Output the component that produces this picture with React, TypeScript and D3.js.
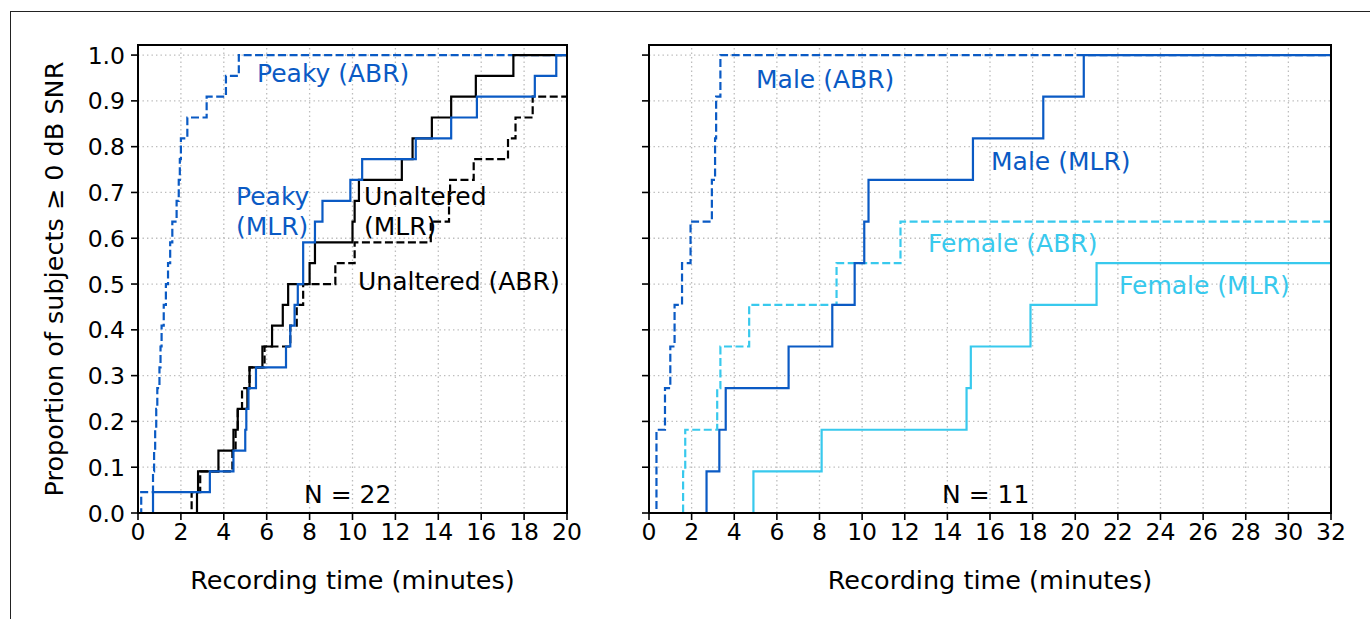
import React from "react";
import * as d3 from "d3";

// Times (minutes) at which each subject first reached >= 0 dB SNR.
// Panel A: 22 subjects, peaky vs unaltered speech.
const peakyAbrTimes = [0.15, 0.7, 0.75, 0.8, 0.85, 0.9, 1.0, 1.05, 1.1, 1.2, 1.3, 1.4, 1.5, 1.6, 1.8, 1.9, 1.95, 2.0, 2.3, 3.2, 4.1, 4.7];
const peakyMlrTimes = [0.7, 3.35, 4.45, 5.0, 5.05, 5.15, 5.5, 6.9, 7.1, 7.3, 7.45, 7.7, 7.7, 8.25, 8.6, 9.9, 10.45, 12.95, 14.6, 15.8, 18.5, 19.5];
const unalteredAbrTimes = [2.5, 2.9, 4.4, 4.55, 4.65, 4.85, 5.2, 5.9, 7.1, 7.4, 7.7, 9.2, 10.1, 13.65, 14.5, 14.55, 15.65, 17.25, 17.6, 18.4];
const unalteredMlrTimes = [2.75, 2.8, 3.75, 4.45, 4.65, 5.1, 5.2, 5.8, 6.25, 6.75, 7.0, 8.0, 8.25, 10.0, 10.1, 10.3, 12.3, 12.8, 13.7, 14.6, 15.75, 17.5];
const leftN = 22;

// Panel B: 11 subjects, male vs female narrator.
const maleAbrTimes = [0.35, 0.35, 0.75, 1.0, 1.2, 1.55, 1.95, 2.95, 3.1, 3.15, 3.35];
const maleMlrTimes = [2.7, 3.3, 3.6, 6.55, 8.6, 9.65, 10.1, 10.3, 15.2, 18.5, 20.4];
const femaleAbrTimes = [1.6, 1.7, 3.2, 3.35, 4.7, 8.8, 11.8];
const femaleMlrTimes = [4.9, 8.1, 14.9, 15.1, 17.9, 21.0];
const rightN = 11;

const leftXTicks = [0, 2, 4, 6, 8, 10, 12, 14, 16, 18, 20];
const rightXTicks = [0, 2, 4, 6, 8, 10, 12, 14, 16, 18, 20, 22, 24, 26, 28, 30, 32];
const yTicks = [0, 0.1, 0.2, 0.3, 0.4, 0.5, 0.6, 0.7, 0.8, 0.9, 1.0];

const BLUE = "#0a5ac4";
const CYAN = "#38c9ed";
const BLACK = "#000000";
const FONT = "DejaVu Sans, sans-serif";

const W = 1370;
const H = 619;
const TOP = 45;
const BOTTOM = 513;
const Y_MAX = 1.022;

type Series = {
  times: number[];
  n: number;
  color: string;
  dashed: boolean;
};

type Label = { lines: string[]; x: number; y: number; color: string };

function stepPath(
  s: Series,
  x: d3.ScaleLinear<number, number>,
  y: d3.ScaleLinear<number, number>,
  xMax: number
) {
  const pts: [number, number][] = [[0, 0]];
  s.times.forEach((t, i) => pts.push([t, (i + 1) / s.n]));
  pts.push([xMax, s.times.length / s.n]);
  const line = d3
    .line<[number, number]>()
    .x((d) => x(d[0]))
    .y((d) => y(d[1]))
    .curve(d3.curveStepAfter);
  return line(pts) || "";
}

function Panel({
  id,
  left,
  right,
  xMax,
  xTicks,
  showYLabels,
  series,
  labels,
}: {
  id: string;
  left: number;
  right: number;
  xMax: number;
  xTicks: number[];
  showYLabels: boolean;
  series: Series[];
  labels: Label[];
}) {
  const x = d3.scaleLinear().domain([0, xMax]).range([left, right]);
  const y = d3.scaleLinear().domain([0, Y_MAX]).range([BOTTOM, TOP]);
  const tickLen = 7;
  return (
    <g>
      <defs>
        <clipPath id={id}>
          <rect x={left} y={TOP} width={right - left} height={BOTTOM - TOP} />
        </clipPath>
      </defs>
      {/* grid */}
      <g stroke="#bdbdbd" strokeWidth={1.3} strokeDasharray="1.4,3.1">
        {xTicks.map((t) => (
          <line key={"gx" + t} x1={x(t)} x2={x(t)} y1={BOTTOM} y2={TOP} />
        ))}
        {yTicks.map((t) => (
          <line key={"gy" + t} x1={left} x2={right} y1={y(t)} y2={y(t)} />
        ))}
      </g>
      {/* step curves */}
      <g clipPath={`url(#${id})`} fill="none">
        {series.map((s, i) => (
          <path
            key={i}
            d={stepPath(s, x, y, xMax)}
            stroke={s.color}
            strokeWidth={2.2}
            strokeDasharray={s.dashed ? "8,3.5" : undefined}
          />
        ))}
      </g>
      {/* annotations */}
      {labels.map((l, i) => (
        <text key={i} fill={l.color} fontFamily={FONT} fontSize={25}>
          {l.lines.map((ln, j) => (
            <tspan key={j} x={l.x} y={l.y + j * 30}>
              {ln}
            </tspan>
          ))}
        </text>
      ))}
      {/* frame */}
      <rect
        x={left}
        y={TOP}
        width={right - left}
        height={BOTTOM - TOP}
        fill="none"
        stroke="#000"
        strokeWidth={2}
      />
      {/* x ticks */}
      <g fontFamily={FONT} fontSize={23.5} textAnchor="middle">
        {xTicks.map((t) => (
          <g key={"xt" + t}>
            <line x1={x(t)} x2={x(t)} y1={BOTTOM} y2={BOTTOM + tickLen} stroke="#000" strokeWidth={1.6} />
            <text x={x(t)} y={BOTTOM + 27}>
              {t}
            </text>
          </g>
        ))}
      </g>
      {/* y ticks */}
      <g fontFamily={FONT} fontSize={23.5} textAnchor="end">
        {yTicks.map((t) => (
          <g key={"yt" + t}>
            <line x1={left - tickLen} x2={left} y1={y(t)} y2={y(t)} stroke="#000" strokeWidth={1.6} />
            {showYLabels && (
              <text x={left - 13} y={y(t) + 8.5}>
                {d3.format(".1f")(t)}
              </text>
            )}
          </g>
        ))}
      </g>
      <text
        x={(left + right) / 2}
        y={589}
        textAnchor="middle"
        fontFamily={FONT}
        fontSize={25.5}
      >
        Recording time (minutes)
      </text>
    </g>
  );
}

export default function App() {
  const leftSeries: Series[] = [
    { times: peakyAbrTimes, n: leftN, color: BLUE, dashed: true },
    { times: unalteredAbrTimes, n: leftN, color: BLACK, dashed: true },
    { times: unalteredMlrTimes, n: leftN, color: BLACK, dashed: false },
    { times: peakyMlrTimes, n: leftN, color: BLUE, dashed: false },
  ];
  const rightSeries: Series[] = [
    { times: maleAbrTimes, n: rightN, color: BLUE, dashed: true },
    { times: femaleAbrTimes, n: rightN, color: CYAN, dashed: true },
    { times: maleMlrTimes, n: rightN, color: BLUE, dashed: false },
    { times: femaleMlrTimes, n: rightN, color: CYAN, dashed: false },
  ];
  const leftLabels: Label[] = [
    { lines: ["Peaky (ABR)"], x: 257, y: 82, color: BLUE },
    { lines: ["Peaky", "(MLR)"], x: 236, y: 205, color: BLUE },
    { lines: ["Unaltered", "(MLR)"], x: 364, y: 205, color: BLACK },
    { lines: ["Unaltered (ABR)"], x: 358, y: 290, color: BLACK },
    { lines: ["N = 22"], x: 304, y: 503, color: BLACK },
  ];
  const rightLabels: Label[] = [
    { lines: ["Male (ABR)"], x: 756, y: 88, color: BLUE },
    { lines: ["Male (MLR)"], x: 991, y: 170, color: BLUE },
    { lines: ["Female (ABR)"], x: 928, y: 252, color: CYAN },
    { lines: ["Female (MLR)"], x: 1119, y: 294, color: CYAN },
    { lines: ["N = 11"], x: 942, y: 503, color: BLACK },
  ];
  return (
    <svg
      width={W}
      height={H}
      viewBox={`0 0 ${W} ${H}`}
      style={{ position: "absolute", left: 0, top: 0, background: "#fff" }}
    >
      <rect x={0} y={0} width={W} height={H} fill="#fff" />
      {/* outer figure border */}
      <rect x={10.5} y={11.5} width={W + 10} height={H + 10} fill="none" stroke="#222" strokeWidth={1} />
      <Panel
        id="clipLeft"
        left={138}
        right={567}
        xMax={20}
        xTicks={leftXTicks}
        showYLabels={true}
        series={leftSeries}
        labels={leftLabels}
      />
      <Panel
        id="clipRight"
        left={649}
        right={1331}
        xMax={32}
        xTicks={rightXTicks}
        showYLabels={false}
        series={rightSeries}
        labels={rightLabels}
      />
      <text
        transform={`translate(63, ${(TOP + BOTTOM) / 2}) rotate(-90)`}
        textAnchor="middle"
        fontFamily={FONT}
        fontSize={25.5}
      >
        Proportion of subjects ≥ 0 dB SNR
      </text>
    </svg>
  );
}
